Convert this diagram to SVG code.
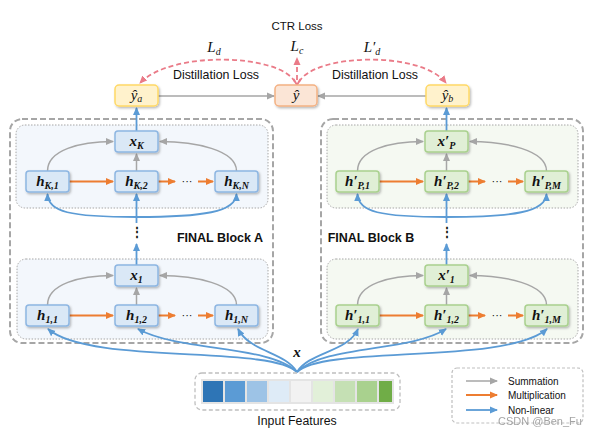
<svg xmlns="http://www.w3.org/2000/svg" width="595" height="435" viewBox="0 0 595 435">
<defs>
<filter id="sh" x="-20%" y="-20%" width="150%" height="160%"><feDropShadow dx="1.2" dy="1.5" stdDeviation="1" flood-color="#000" flood-opacity="0.28"/></filter>
<marker id="ag" markerWidth="8" markerHeight="8" refX="7" refY="4" orient="auto" markerUnits="userSpaceOnUse"><path d="M0,0.5 L8,4 L0,7.5 Z" fill="#A6A6A6"/></marker>
<marker id="ao" markerWidth="8" markerHeight="8" refX="7" refY="4" orient="auto" markerUnits="userSpaceOnUse"><path d="M0,0.5 L8,4 L0,7.5 Z" fill="#ED7D31"/></marker>
<marker id="ab" markerWidth="8" markerHeight="8" refX="7" refY="4" orient="auto" markerUnits="userSpaceOnUse"><path d="M0,0.5 L8,4 L0,7.5 Z" fill="#5B9BD5"/></marker>
<marker id="ap" markerWidth="8" markerHeight="8" refX="7" refY="4" orient="auto" markerUnits="userSpaceOnUse"><path d="M0,0.5 L8,4 L0,7.5 Z" fill="#EA7B88"/></marker>
</defs>
<style>
.sans{font-family:"Liberation Sans",Arial,sans-serif;fill:#111}
.math{font-family:"Liberation Serif","DejaVu Serif",serif;font-style:italic;font-weight:bold;font-size:15px;fill:#111}
.mathn{font-family:"Liberation Serif","DejaVu Serif",serif;font-style:italic;font-size:15px;fill:#111}
.sub{font-size:10px}
.bn{fill:#DAE8F6;stroke:#8DB6E2;stroke-width:1.5;filter:url(#sh)}
.gn{fill:#E0EFD6;stroke:#A9D18E;stroke-width:1.5;filter:url(#sh)}
.outer{fill:#fff;stroke:#A6A6A6;stroke-width:2;stroke-dasharray:6,3}
.pa{fill:#F3F7FC;stroke:#A6A6A6;stroke-width:1;stroke-dasharray:1.5,1.5}
.pb{fill:#F5F9F2;stroke:#A6A6A6;stroke-width:1;stroke-dasharray:1.5,1.5}
.g{fill:none;stroke:#A6A6A6;stroke-width:1.5;marker-end:url(#ag)}
.o{fill:none;stroke:#ED7D31;stroke-width:2;marker-end:url(#ao)}
.b{fill:none;stroke:#5B9BD5;stroke-width:1.8;marker-end:url(#ab)}
.p{fill:none;stroke:#EA7B88;stroke-width:1.8;stroke-dasharray:5,3}
</style>
<rect width="595" height="435" fill="#fff"/>

<!-- blocks -->
<g id="blockA">
<rect class="outer" x="10" y="119" width="263" height="224" rx="12"/>
<rect class="pa" x="16" y="125" width="252" height="83" rx="9"/>
<rect class="pa" x="17" y="259" width="251" height="80" rx="9"/>
<text class="sans" x="220" y="242" font-size="12.5" font-weight="bold" text-anchor="middle">FINAL Block A</text>
</g>
<g id="blockB">
<rect class="outer" x="321" y="119" width="262" height="224" rx="12"/>
<rect class="pb" x="327" y="125" width="251" height="83" rx="9"/>
<rect class="pb" x="327" y="259" width="251" height="80" rx="9"/>
<text class="sans" x="371" y="242" font-size="12.5" font-weight="bold" text-anchor="middle">FINAL Block B</text>
</g>

<!-- connectors -->
<g id="connectors">
<path class="g" d="M158,96 L274,96"/>
<path class="g" d="M426,96 L318,96"/>
<path class="p" d="M295,82 C 280,54 172,50 140,83" marker-end="url(#ap)"/>
<path class="p" d="M299,82 C 314,54 420,50 446,83" marker-end="url(#ap)"/>
<path class="p" d="M297,80 L297,58" marker-end="url(#ap)"/>
<path d="M293.5,79 L297,85 L300.5,79" fill="none" stroke="#EA7B88" stroke-width="1.8"/>
<g id="connA">
<path class="b" d="M136.5,131 L136.5,108"/>
<path class="g" d="M47.5,171 C47.5,150 80,141.5 113,141.5"/>
<path class="g" d="M236.5,171 C236.5,150 195,141.5 160,141.5"/>
<path class="g" d="M136.5,171 L136.5,154"/>
<path class="o" d="M69,181.5 L113,181.5"/>
<path class="o" d="M158,181.5 L175,181.5"/>
<path class="o" d="M198,181.5 L213,181.5"/>
<text class="sans" x="187" y="185" font-size="11" text-anchor="middle">···</text>
<path class="b" d="M136.5,217 C70,217 48,212 47.5,194"/>
<path class="b" d="M136.5,217 C203,217 236,212 236.5,194"/>
<path class="b" d="M136.5,223 L136.5,194"/>
<text class="sans" x="136.5" y="236" font-size="12" font-weight="bold" text-anchor="middle">⋮</text>
<path class="b" d="M136.5,265 L136.5,244"/>
<path class="g" d="M47.5,305 C47.5,284 80,275.5 113,275.5"/>
<path class="g" d="M236.5,305 C236.5,284 195,275.5 160,275.5"/>
<path class="g" d="M136.5,305 L136.5,288"/>
<path class="o" d="M69,315.5 L113,315.5"/>
<path class="o" d="M158,315.5 L175,315.5"/>
<path class="o" d="M198,315.5 L213,315.5"/>
<text class="sans" x="187" y="319" font-size="11" text-anchor="middle">···</text>
</g>
<g id="connB" transform="translate(310,0)">
<path class="b" d="M136.5,131 L136.5,108"/>
<path class="g" d="M47.5,171 C47.5,150 80,141.5 113,141.5"/>
<path class="g" d="M236.5,171 C236.5,150 195,141.5 160,141.5"/>
<path class="g" d="M136.5,171 L136.5,154"/>
<path class="o" d="M69,181.5 L113,181.5"/>
<path class="o" d="M158,181.5 L175,181.5"/>
<path class="o" d="M198,181.5 L213,181.5"/>
<text class="sans" x="187" y="185" font-size="11" text-anchor="middle">···</text>
<path class="b" d="M136.5,217 C70,217 48,212 47.5,194"/>
<path class="b" d="M136.5,217 C203,217 236,212 236.5,194"/>
<path class="b" d="M136.5,223 L136.5,194"/>
<text class="sans" x="136.5" y="236" font-size="12" font-weight="bold" text-anchor="middle">⋮</text>
<path class="b" d="M136.5,265 L136.5,244"/>
<path class="g" d="M47.5,305 C47.5,284 80,275.5 113,275.5"/>
<path class="g" d="M236.5,305 C236.5,284 195,275.5 160,275.5"/>
<path class="g" d="M136.5,305 L136.5,288"/>
<path class="o" d="M69,315.5 L113,315.5"/>
<path class="o" d="M158,315.5 L175,315.5"/>
<path class="o" d="M198,315.5 L213,315.5"/>
<text class="sans" x="187" y="319" font-size="11" text-anchor="middle">···</text>
</g>
<path class="b" d="M297,372 C270,345 90,365 48,329"/>
<path class="b" d="M297,372 C270,345 180,352 138,329"/>
<path class="b" d="M297,372 C285,352 250,352 238,329"/>
<path class="b" d="M297,372 C309,352 348,352 358,329"/>
<path class="b" d="M297,372 C324,345 410,352 446,329"/>
<path class="b" d="M297,372 C324,345 505,365 547,329"/>
</g>

<g id="labels">
<text class="sans" x="297" y="30" font-size="11.5" text-anchor="middle">CTR Loss</text>
<text class="mathn" x="297" y="51" font-size="14" text-anchor="middle">L<tspan class="sub" dy="3">c</tspan></text>
<text class="mathn" x="214" y="52" font-size="14" text-anchor="middle">L<tspan class="sub" dy="3">d</tspan></text>
<text class="mathn" x="372" y="52" font-size="14" text-anchor="middle">L′<tspan class="sub" dy="3">d</tspan></text>
<text class="sans" x="216" y="79" font-size="12.4" text-anchor="middle">Distillation Loss</text>
<text class="sans" x="375" y="79" font-size="12.4" text-anchor="middle">Distillation Loss</text>
<text class="math" x="297" y="357" font-size="14" text-anchor="middle">x</text>
</g>

<g id="node_ya"><rect x="115" y="85" width="43" height="21" rx="4" fill="#FFF2CC" stroke="#FFD966" stroke-width="1.5" filter="url(#sh)"/><text class="mathn" x="136.5" y="100" text-anchor="middle">ŷ<tspan class="sub" dy="2">a</tspan></text></g>
<g id="node_y"><rect x="275" y="85" width="42" height="21" rx="4" fill="#FBE5D6" stroke="#F4B183" stroke-width="1.5" filter="url(#sh)"/><text class="mathn" x="296" y="100" text-anchor="middle">ŷ</text></g>
<g id="node_yb"><rect x="426" y="85" width="43" height="21" rx="4" fill="#FFF2CC" stroke="#FFD966" stroke-width="1.5" filter="url(#sh)"/><text class="mathn" x="447.5" y="100" text-anchor="middle">ŷ<tspan class="sub" dy="2">b</tspan></text></g>

<g id="node_xK"><rect class="bn" x="115" y="131" width="43" height="21" rx="3"/><text class="math" x="136.5" y="146" text-anchor="middle">x<tspan class="sub" dy="3">K</tspan></text></g>
<g id="node_hK1"><rect class="bn" x="26" y="171" width="43" height="21" rx="3"/><text class="math" x="47.5" y="186" text-anchor="middle">h<tspan class="sub" dy="3">K,1</tspan></text></g>
<g id="node_hK2"><rect class="bn" x="115" y="171" width="43" height="21" rx="3"/><text class="math" x="136.5" y="186" text-anchor="middle">h<tspan class="sub" dy="3">K,2</tspan></text></g>
<g id="node_hKN"><rect class="bn" x="215" y="171" width="43" height="21" rx="3"/><text class="math" x="236.5" y="186" text-anchor="middle">h<tspan class="sub" dy="3">K,N</tspan></text></g>
<g id="node_x1"><rect class="bn" x="115" y="265" width="43" height="21" rx="3"/><text class="math" x="136.5" y="280" text-anchor="middle">x<tspan class="sub" dy="3">1</tspan></text></g>
<g id="node_h11"><rect class="bn" x="26" y="305" width="43" height="21" rx="3"/><text class="math" x="47.5" y="320" text-anchor="middle">h<tspan class="sub" dy="3">1,1</tspan></text></g>
<g id="node_h12"><rect class="bn" x="115" y="305" width="43" height="21" rx="3"/><text class="math" x="136.5" y="320" text-anchor="middle">h<tspan class="sub" dy="3">1,2</tspan></text></g>
<g id="node_h1N"><rect class="bn" x="215" y="305" width="43" height="21" rx="3"/><text class="math" x="236.5" y="320" text-anchor="middle">h<tspan class="sub" dy="3">1,N</tspan></text></g>

<g id="node_xP"><rect class="gn" x="425" y="131" width="43" height="21" rx="3"/><text class="math" x="446.5" y="146" text-anchor="middle">x′<tspan class="sub" dy="3">P</tspan></text></g>
<g id="node_hP1"><rect class="gn" x="336" y="171" width="43" height="21" rx="3"/><text class="math" x="357.5" y="186" text-anchor="middle">h′<tspan class="sub" dy="3">P,1</tspan></text></g>
<g id="node_hP2"><rect class="gn" x="425" y="171" width="43" height="21" rx="3"/><text class="math" x="446.5" y="186" text-anchor="middle">h′<tspan class="sub" dy="3">P,2</tspan></text></g>
<g id="node_hPM"><rect class="gn" x="525" y="171" width="43" height="21" rx="3"/><text class="math" x="546.5" y="186" text-anchor="middle">h′<tspan class="sub" dy="3">P,M</tspan></text></g>
<g id="node_xp1"><rect class="gn" x="425" y="265" width="43" height="21" rx="3"/><text class="math" x="446.5" y="280" text-anchor="middle">x′<tspan class="sub" dy="3">1</tspan></text></g>
<g id="node_hp11"><rect class="gn" x="336" y="305" width="43" height="21" rx="3"/><text class="math" x="357.5" y="320" text-anchor="middle">h′<tspan class="sub" dy="3">1,1</tspan></text></g>
<g id="node_hp12"><rect class="gn" x="425" y="305" width="43" height="21" rx="3"/><text class="math" x="446.5" y="320" text-anchor="middle">h′<tspan class="sub" dy="3">1,2</tspan></text></g>
<g id="node_hp1M"><rect class="gn" x="525" y="305" width="43" height="21" rx="3"/><text class="math" x="546.5" y="320" text-anchor="middle">h′<tspan class="sub" dy="3">1,M</tspan></text></g>

<g id="input">
<rect x="195" y="373" width="205" height="37" rx="7" fill="#fff" stroke="#BFBFBF" stroke-width="1.3" stroke-dasharray="4,2.5"/>
<rect x="201" y="379" width="193" height="25" fill="#E4E4E4"/>
<rect x="203" y="381" width="20" height="21" fill="#2E75B6"/>
<rect x="225" y="381" width="20" height="21" fill="#5B9BD5"/>
<rect x="247" y="381" width="20" height="21" fill="#9DC3E6"/>
<rect x="269" y="381" width="20" height="21" fill="#DEEBF7"/>
<rect x="291" y="381" width="20" height="21" fill="#F2F2F2"/>
<rect x="313" y="381" width="20" height="21" fill="#E2F0D9"/>
<rect x="335" y="381" width="20" height="21" fill="#C5E0B4"/>
<rect x="357" y="381" width="20" height="21" fill="#A9D18E"/>
<rect x="379" y="381" width="13" height="21" fill="#70AD47"/>
<text class="sans" x="297" y="425" font-size="12.3" text-anchor="middle">Input Features</text>
</g>

<g id="legend">
<rect x="452" y="368" width="131" height="55" rx="5" fill="#fff" stroke="#BFBFBF" stroke-width="1.2" stroke-dasharray="3,2"/>
<path class="g" d="M466,381 L497,381"/>
<path class="o" d="M466,395 L497,395"/>
<path class="b" d="M466,410 L497,410"/>
<text class="sans" x="508" y="385" font-size="10">Summation</text>
<text class="sans" x="508" y="399" font-size="10">Multiplication</text>
<text class="sans" x="508" y="414" font-size="10">Non-linear</text>
<text x="498" y="425" font-family="Liberation Sans,Arial,sans-serif" font-size="11" fill="#9A9A9A" opacity="0.9">CSDN @Ben_Fu</text>
</g>
</svg>
